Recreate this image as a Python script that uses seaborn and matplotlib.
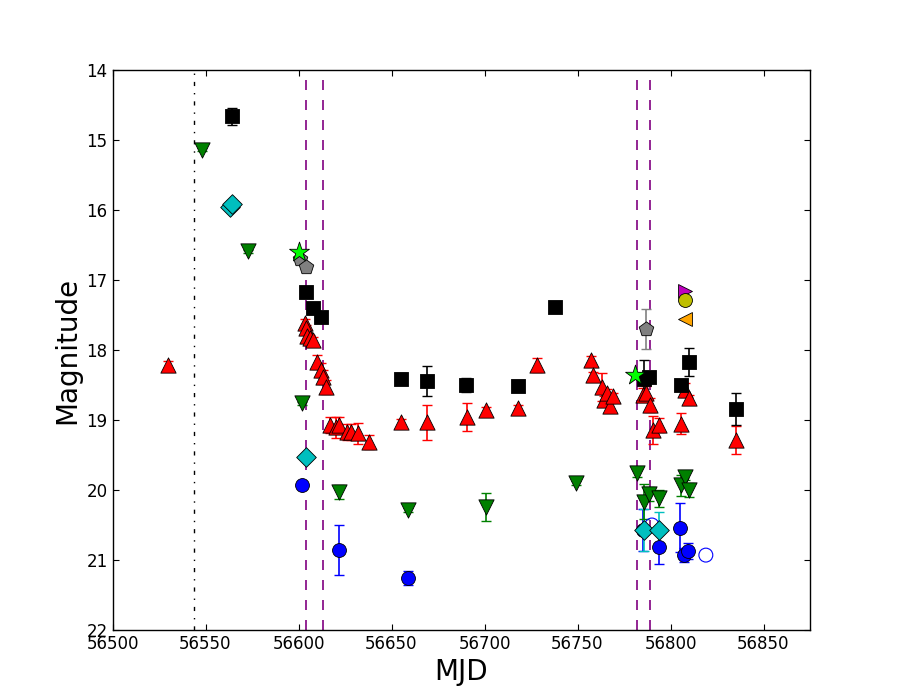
import numpy as np
import pandas as pd
import matplotlib
matplotlib.use("Agg")
import matplotlib.pyplot as plt
import seaborn as sns

# red triangles
mjd_r = [56530, 56603.3, 56603.8, 56604.5, 56606, 56608, 56610, 56612, 56613, 56615,
         56617, 56620, 56622, 56626, 56628, 56632, 56638, 56655, 56669, 56690.5,
         56701, 56718, 56728, 56757, 56758.5, 56763, 56764, 56766, 56767.5, 56769,
         56785, 56787, 56789, 56790.5, 56794, 56805.6, 56808, 56810, 56835]
mag_r = [18.21, 17.61, 17.69, 17.80, 17.83, 17.86, 18.17, 18.29, 18.39, 18.53,
         19.07, 19.10, 19.07, 19.17, 19.17, 19.19, 19.31, 19.03, 19.03, 18.96,
         18.86, 18.83, 18.21, 18.14, 18.36, 18.53, 18.71, 18.61, 18.80, 18.66,
         18.64, 18.62, 18.79, 19.14, 19.07, 19.05, 18.57, 18.69, 19.29]
err_r = [0.05, 0.05, 0.05, 0.05, 0.05, 0.05, 0.10, 0.10, 0.10, 0.10,
         0.12, 0.15, 0.12, 0.12, 0.12, 0.15, 0.10, 0.05, 0.25, 0.20,
         0.05, 0.05, 0.10, 0.05, 0.05, 0.20, 0.05, 0.05, 0.05, 0.05,
         0.10, 0.10, 0.10, 0.20, 0.10, 0.15, 0.10, 0.05, 0.20]

# black squares
mjd_k = [56564, 56604, 56607.6, 56612, 56655, 56669, 56690, 56718, 56738,
         56786, 56788.5, 56805.6, 56810, 56835]
mag_k = [14.66, 17.17, 17.40, 17.53, 18.41, 18.44, 18.50, 18.51, 17.39,
         18.42, 18.38, 18.50, 18.17, 18.84]
err_k = [0.12, 0.03, 0.03, 0.05, 0.08, 0.21, 0.10, 0.03, 0.03,
         0.28, 0.05, 0.05, 0.20, 0.23]

# green down triangles
mjd_g = [56548, 56573, 56602, 56622, 56659, 56701, 56749, 56782, 56786,
         56788.5, 56794, 56805.6, 56808, 56810]
mag_g = [15.14, 16.59, 18.76, 20.03, 20.29, 20.24, 19.90, 19.76, 20.17,
         20.05, 20.12, 19.93, 19.81, 20.00]
err_g = [0.02, 0.02, 0.02, 0.10, 0.03, 0.20, 0.03, 0.05, 0.25,
         0.10, 0.12, 0.15, 0.05, 0.10]

# cyan diamonds
mjd_c = [56563, 56564, 56604, 56786, 56794]
mag_c = [15.96, 15.91, 19.53, 20.57, 20.57]
err_c = [0.02, 0.02, 0.02, 0.30, 0.25]

# blue circles
mjd_b = [56602, 56622, 56659, 56785, 56794, 56805, 56807, 56809.5]
mag_b = [19.93, 20.86, 21.26, 20.57, 20.81, 20.54, 20.93, 20.87]
err_b = [0.02, 0.36, 0.10, 0.30, 0.25, 0.35, 0.10, 0.12]

# blue open circles
mjd_bo = [56790, 56819]
mag_bo = [20.50, 20.93]

# lime stars
mjd_s = [56600, 56781]
mag_s = [16.60, 18.36]

# grey pentagons
mjd_p = [56600.6, 56604, 56787]
mag_p = [16.70, 16.82, 17.70]
err_p = [0.02, 0.02, 0.28]

# single points
mjd_m, mag_m = [56808], [17.16]
mjd_y, mag_y = [56808], [17.29]
mjd_o, mag_o = [56808], [17.56]

v_dashdot = [56543.6]
v_dashed = [56603.8, 56613, 56782, 56789]

sns.set_style("ticks")
plt.rcParams.update({
    "xtick.direction": "in", "ytick.direction": "in",
    "xtick.top": True, "ytick.right": True,
    "xtick.major.size": 4, "ytick.major.size": 4,
    "axes.edgecolor": "black", "axes.linewidth": 1.0,
    "text.color": "black", "axes.labelcolor": "black",
    "xtick.color": "black", "ytick.color": "black",
})
plt.rcParams["font.family"] = ["DejaVu Sans"]

fig, ax = plt.subplots(figsize=(9, 7), dpi=100)
fig.subplots_adjust(left=0.125, right=0.9, bottom=0.1, top=0.9)


def errs(x, y, e, color):
    ax.errorbar(x, y, yerr=e, fmt="none", ecolor=color, elinewidth=1.2,
                capsize=3.5, capthick=1, zorder=2)


def pts(x, y, marker, color, ms, **kw):
    d = pd.DataFrame({"MJD": x, "mag": y})
    sns.scatterplot(data=d, x="MJD", y="mag", marker=marker, color=color,
                    s=ms ** 2, edgecolor=kw.get("ec", "black"),
                    linewidth=kw.get("lw", 0.6), ax=ax, zorder=3, legend=False)


for xv in v_dashdot:
    ax.axvline(xv, color="black", linestyle=(0, (3, 5, 1, 5)), linewidth=1, zorder=1)
for xv in v_dashed:
    ax.axvline(xv, color="purple", linestyle=(0, (6, 6)), linewidth=1.2, zorder=1)

errs(mjd_b, mag_b, err_b, "blue")
pts(mjd_b, mag_b, "o", "blue", 10)
ax.scatter(mjd_bo, mag_bo, s=100, facecolors="none", edgecolors="blue",
           linewidths=0.8, zorder=3)
errs(mjd_c, mag_c, err_c, "c")
pts(mjd_c, mag_c, "D", "c", 10)
errs(mjd_g, mag_g, err_g, "green")
pts(mjd_g, mag_g, "v", "green", 11)
errs(mjd_r, mag_r, err_r, "red")
pts(mjd_r, mag_r, "^", "red", 11)
errs(mjd_k, mag_k, err_k, "black")
pts(mjd_k, mag_k, "s", "black", 10)
errs(mjd_p, mag_p, err_p, "grey")
pts(mjd_p, mag_p, "p", "grey", 11)
pts(mjd_s, mag_s, "*", "lime", 15)
pts(mjd_m, mag_m, ">", "m", 10)
pts(mjd_y, mag_y, "o", "y", 10)
pts(mjd_o, mag_o, "<", "orange", 10)

ax.set_xlim(56500, 56875)
ax.set_ylim(22, 14)
ax.set_xticks(np.arange(56500, 56851, 50))
ax.set_yticks(np.arange(14, 23, 1))
ax.tick_params(labelsize=12, colors="black")
ax.set_xlabel("MJD", fontsize=20)
ax.set_ylabel("Magnitude", fontsize=20)

fig.savefig("out.png", dpi=100)
